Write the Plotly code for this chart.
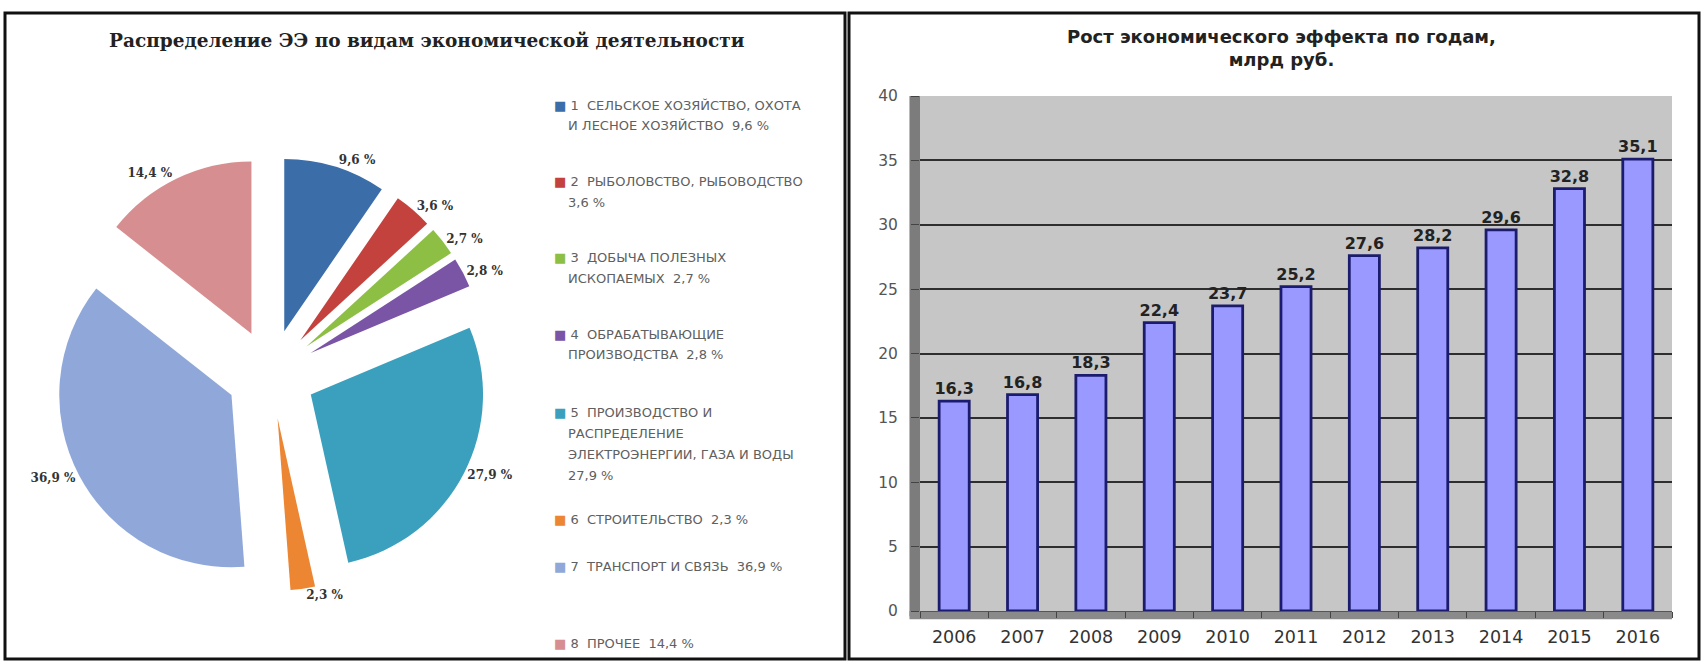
import plotly.graph_objects as go

# ---------------- data ----------------
pie_labels = [
    "Сельское хозяйство, охота и лесное хозяйство",
    "Рыболовство, рыбоводство",
    "Добыча полезных ископаемых",
    "Обрабатывающие производства",
    "Производство и распределение электроэнергии, газа и воды",
    "Строительство",
    "Транспорт и связь",
    "Прочее",
]
pie_values = [9.6, 3.6, 2.7, 2.8, 27.9, 2.3, 36.9, 14.4]
pie_colors = ["#3b6ea9", "#c4423d", "#8dbf45", "#7a55a6", "#3aa0bd", "#ec8633", "#8fa8d9", "#d68e90"]
legend_name_lines = [
    ["1  СЕЛЬСКОЕ ХОЗЯЙСТВО, ОХОТА", "И ЛЕСНОЕ ХОЗЯЙСТВО"],
    ["2  РЫБОЛОВСТВО, РЫБОВОДСТВО", ""],
    ["3  ДОБЫЧА ПОЛЕЗНЫХ", "ИСКОПАЕМЫХ"],
    ["4  ОБРАБАТЫВАЮЩИЕ", "ПРОИЗВОДСТВА"],
    ["5  ПРОИЗВОДСТВО И", "РАСПРЕДЕЛЕНИЕ", "ЭЛЕКТРОЭНЕРГИИ, ГАЗА И ВОДЫ", ""],
    ["6  СТРОИТЕЛЬСТВО"],
    ["7  ТРАНСПОРТ И СВЯЗЬ"],
    ["8  ПРОЧЕЕ"],
]

years = ["2006", "2007", "2008", "2009", "2010", "2011", "2012", "2013", "2014", "2015", "2016"]
effect = [16.3, 16.8, 18.3, 22.4, 23.7, 25.2, 27.6, 28.2, 29.6, 32.8, 35.1]
y_ticks = [0, 5, 10, 15, 20, 25, 30, 35, 40]

pie_title = "Распределение ЭЭ по видам экономической деятельности"
bar_title = "Рост экономического эффекта по годам,<br>млрд руб."

# ---------------- helpers ----------------
W, H = 1702, 661


def ru(v):
    return f"{v:.1f}".replace(".", ",")


def px_x(x):
    return x / W


def px_y(y):
    return (H - y) / H


fig = go.Figure()

# ---------------- pie ----------------
pie_cx, pie_cy, pie_half = 271, 374, 217
fig.add_trace(go.Pie(
    labels=pie_labels,
    values=pie_values,
    text=[ru(v) + " %" for v in pie_values],
    textinfo="text",
    textposition="outside",
    sort=False,
    direction="clockwise",
    rotation=0,
    pull=[0.26] * len(pie_values),
    marker=dict(colors=pie_colors, line=dict(width=0)),
    outsidetextfont=dict(family="DejaVu Serif", size=12, color="#333333", weight="bold"),
    domain=dict(x=[px_x(pie_cx - pie_half), px_x(pie_cx + pie_half)],
                y=[px_y(pie_cy + pie_half), px_y(pie_cy - pie_half)]),
    showlegend=False,
    automargin=False,
    hoverinfo="label+text",
))

# ---------------- bars ----------------
fig.add_trace(go.Bar(
    x=years,
    y=effect,
    text=[ru(v) for v in effect],
    textposition="outside",
    constraintext="none",
    textfont=dict(family="DejaVu Sans", size=16, color="#222222", weight="bold"),
    cliponaxis=False,
    marker=dict(color="#9999ff", line=dict(color="#1c1c6e", width=2.8)),
    xaxis="x", yaxis="y",
    showlegend=False,
))

annotations = []
# titles
annotations.append(dict(
    text=pie_title, x=px_x(427), y=px_y(40), xref="paper", yref="paper",
    showarrow=False, xanchor="center", yanchor="middle",
    font=dict(family="DejaVu Serif", size=18.5, color="#222222", weight="bold")))
annotations.append(dict(
    text=bar_title, x=px_x(1281), y=px_y(24), xref="paper", yref="paper",
    showarrow=False, xanchor="center", yanchor="top",
    font=dict(family="DejaVu Sans", size=18, color="#222222", weight="bold")))

# custom legend (one annotation per text line)
leg_first_y = [105, 181, 257, 334, 412, 519, 566, 643]
leg_line_step = 21
for i, lines in enumerate(legend_name_lines):
    lines = list(lines)
    pct = ru(pie_values[i]) + " %"
    if lines[-1] == "":
        lines[-1] = pct
    else:
        lines[-1] = lines[-1] + "  " + pct
    for j, ln in enumerate(lines):
        if j == 0:
            txt = f"<span style='color:{pie_colors[i]}'>■</span> " + ln
            xx = 552
        else:
            txt = ln
            xx = 566
        annotations.append(dict(
            text=txt, x=px_x(xx), y=px_y(leg_first_y[i] + j * leg_line_step),
            xref="paper", yref="paper", showarrow=False,
            xanchor="left", yanchor="middle",
            font=dict(family="DejaVu Sans", size=13, color="#606060")))

shapes = [
    # panel borders
    dict(type="rect", xref="paper", yref="paper",
         x0=px_x(5), x1=px_x(845), y0=px_y(659), y1=px_y(13),
         line=dict(color="#111111", width=3), layer="above"),
    dict(type="rect", xref="paper", yref="paper",
         x0=px_x(849), x1=px_x(1699), y0=px_y(659), y1=px_y(13),
         line=dict(color="#111111", width=3), layer="above"),
    # 3D side wall and floor of the column chart
    dict(type="rect", xref="x domain", yref="y domain",
         x0=-0.014, x1=0.0, y0=-0.01, y1=1.0,
         fillcolor="#7c7c7c", line=dict(width=0), layer="below"),
    dict(type="rect", xref="x domain", yref="y domain",
         x0=-0.014, x1=1.0, y0=-0.016, y1=0.0,
         fillcolor="#8a8a8a", line=dict(width=0), layer="below"),
]

x0d, x1d = px_x(920), px_x(1672)
y0d, y1d = px_y(611), px_y(96)

fig.update_layout(
    width=W, height=H,
    margin=dict(l=0, r=0, t=0, b=0, autoexpand=False),
    paper_bgcolor="white",
    plot_bgcolor="#c6c6c6",
    showlegend=False,
    font=dict(family="DejaVu Sans", color="#333333"),
    bargap=0.56,
    xaxis=dict(
        domain=[x0d, x1d],
        anchor="y",
        automargin=False,
        ticks="outside", ticklen=6, tickcolor="#444444", tickson="boundaries",
        showgrid=False, showline=True, linecolor="#555555", linewidth=1,
        tickfont=dict(family="DejaVu Sans", size=17.5, color="#333333"),
        ticklabelstandoff=10,
        fixedrange=True,
    ),
    yaxis=dict(
        domain=[y0d, y1d],
        anchor="x",
        automargin=False,
        range=[0, 40],
        tickvals=y_ticks,
        ticktext=[str(t) for t in y_ticks],
        ticks="outside", ticklen=8, tickcolor="#444444",
        showgrid=True, gridcolor="#2e2e2e", gridwidth=1.8,
        zeroline=False, showline=False,
        tickfont=dict(family="DejaVu Sans", size=15.5, color="#555555"),
        ticklabelstandoff=10,
        fixedrange=True,
    ),
    annotations=annotations,
    shapes=shapes,
)

fig.write_html("out.html")
